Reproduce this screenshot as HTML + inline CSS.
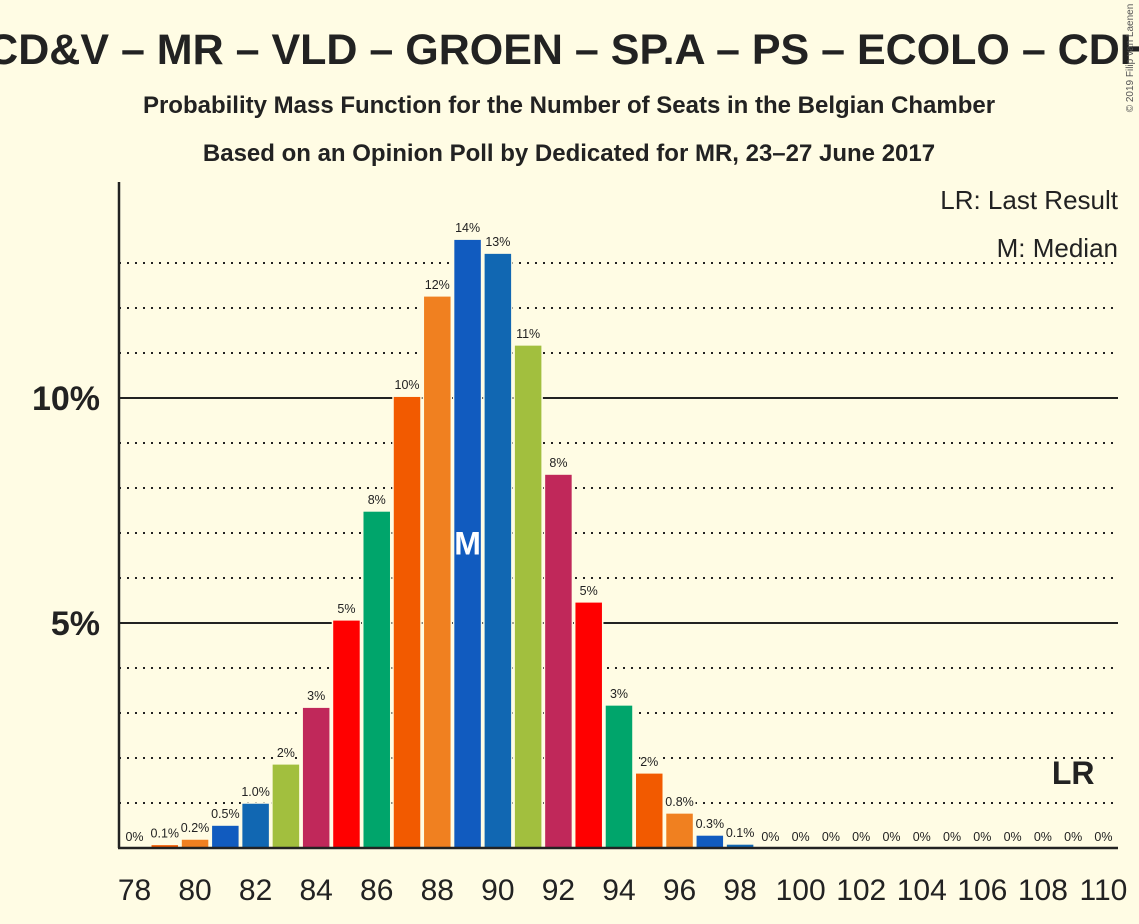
<!DOCTYPE html>
<html><head><meta charset="utf-8"><style>
body{margin:0;background:#FFFCE4;}
svg{display:block;font-family:"Liberation Sans",sans-serif;}
</style></head><body>
<svg id="chart" width="1139" height="924">
<rect width="1139" height="924" fill="#FFFCE4"/>
<text x="569" y="64" text-anchor="middle" font-size="43" font-weight="bold" fill="#222">CD&amp;V – MR – VLD – GROEN – SP.A – PS – ECOLO – CDH</text>
<text x="569" y="113" text-anchor="middle" font-size="24" font-weight="bold" fill="#222">Probability Mass Function for the Number of Seats in the Belgian Chamber</text>
<text x="569" y="161" text-anchor="middle" font-size="24" font-weight="bold" fill="#222">Based on an Opinion Poll by Dedicated for MR, 23–27 June 2017</text>
<text x="1133" y="58" font-size="10" fill="#555" transform="rotate(-90 1133 58)" text-anchor="middle">© 2019 Filip van Laenen</text>
<g id="grid"></g>
<g id="bars"></g>
<g id="labels"></g>
<line x1="119" y1="182" x2="119" y2="848" stroke="#222" stroke-width="2.5"/>
<line x1="118" y1="848" x2="1118" y2="848" stroke="#222" stroke-width="2.5"/>
<text x="1118" y="209" text-anchor="end" font-size="26" fill="#222">LR: Last Result</text>
<text x="1118" y="257" text-anchor="end" font-size="26" fill="#222">M: Median</text>
</svg>
<script>
const seats=[78,79,80,81,82,83,84,85,86,87,88,89,90,91,92,93,94,95,96,97,98,99,100,101,102,103,104,105,106,107,108,109,110];
const probs=[0,0.08,0.2,0.51,1.0,1.87,3.13,5.07,7.49,10.04,12.27,13.53,13.22,11.18,8.31,5.47,3.18,1.67,0.78,0.29,0.09,0,0,0,0,0,0,0,0,0,0,0,0];
const printed=["0%","0.1%","0.2%","0.5%","1.0%","2%","3%","5%","8%","10%","12%","14%","13%","11%","8%","5%","3%","2%","0.8%","0.3%","0.1%","0%","0%","0%","0%","0%","0%","0%","0%","0%","0%","0%","0%"];
const yTicks=[5,10];
const yTickLabels=["5%","10%"];
const xTicks=[78,80,82,84,86,88,90,92,94,96,98,100,102,104,106,108,110];
const medianSeat=89;
const lastResultSeat=109;
const colors=["#F25A00","#F08020","#115BBF","#1167B2","#A2BF3E","#C0285A","#FF0000","#00A56B"];
const NS="http://www.w3.org/2000/svg";
const x=s=>134.5+(s-78)*30.28;
const y=v=>848-v*45;
function mk(t,a,p){const e=document.createElementNS(NS,t);for(const k in a)e.setAttribute(k,a[k]);p.appendChild(e);return e;}
const grid=document.getElementById('grid'),bars=document.getElementById('bars'),labels=document.getElementById('labels'),svg=document.getElementById('chart');
for(let v=1;v<=13;v++){
 const major=v%5===0;
 const l=mk('line',{x1:119,x2:1118,y1:y(v),y2:y(v),stroke:'#222','stroke-width':2,'stroke-dasharray':major?'none':'2,6'},grid);
 
 
}
yTicks.forEach((v,i)=>{
 const t=mk('text',{x:100,y:y(v)+12,'text-anchor':'end','font-size':34,'font-weight':'bold',fill:'#222'},svg);
 t.textContent=yTickLabels[i];
 
 
});
xTicks.forEach(s=>{
 const t=mk('text',{x:x(s),y:900,'text-anchor':'middle','font-size':30,fill:'#222'},svg);
 t.textContent=s;
 
 
});
seats.forEach((s,i)=>{
 const v=probs[i];
 if(v>0){
  const r=mk('rect',{x:x(s)-14,y:y(v),width:28,height:848-y(v),fill:colors[(s-79+800)%8],stroke:'#FFFCE4','stroke-width':1.5},bars);
  
  
 }
 const ty=y(v)-7;
 const w=printed[i].length*7+4;
 const bg=mk('rect',{x:x(s)-w/2,y:ty-11,width:w,height:14,fill:'#FFFCE4'},labels);
 
 
 const t=mk('text',{x:x(s),y:ty,'text-anchor':'middle','font-size':12.5,fill:'#222'},labels);
 t.textContent=printed[i];
 
 
});
const mi=seats.indexOf(medianSeat);
const m=mk('text',{x:x(medianSeat),y:y(probs[mi]/2)+11,'text-anchor':'middle','font-size':32,'font-weight':'bold',fill:'#fff'},svg);
m.textContent='M';


const lr=mk('text',{x:x(lastResultSeat),y:784,'text-anchor':'middle','font-size':32,'font-weight':'bold',fill:'#222'},svg);
lr.textContent='LR';


</script>
</body></html>
